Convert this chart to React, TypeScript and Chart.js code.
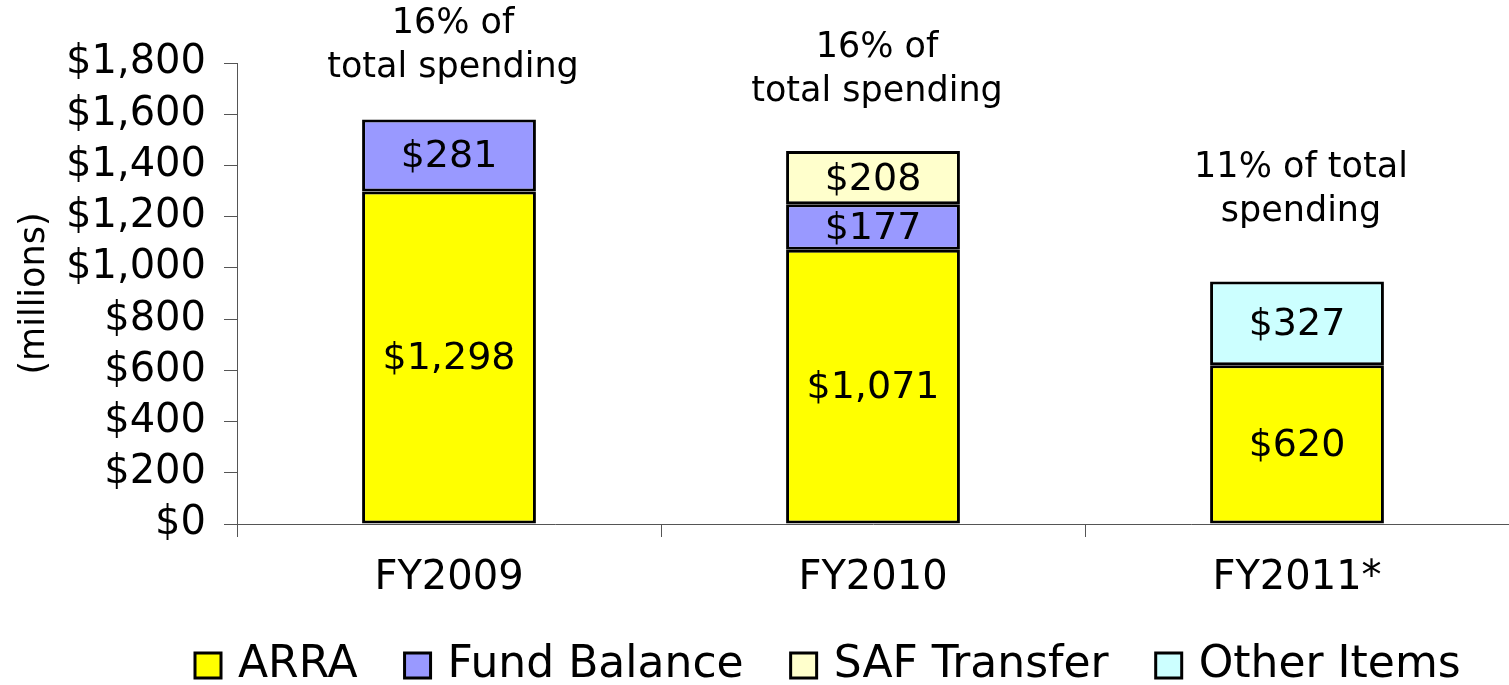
import React, { useEffect, useRef } from 'react';
import { Chart, registerables } from 'chart.js';

Chart.register(...registerables);

const categories = ['FY2009', 'FY2010', 'FY2011*'];
const arraValues = [1298, 1071, 620];
const fundBalanceValues = [281, 177, null];
const safTransferValues = [null, 208, null];
const otherItemsValues = [null, null, 327];
const yMin = 0;
const yMax = 1800;
const yStep = 200;
const shareNotes = [
  ['16% of', 'total spending'],
  ['16% of', 'total spending'],
  ['11% of total', 'spending'],
];

const FONT = '"DejaVu Sans", Verdana, sans-serif';

const barLabelPlugin = {
  id: 'barLabels',
  afterDatasetsDraw(chart: any) {
    const ctx = chart.ctx;
    ctx.save();
    ctx.font = `38px ${FONT}`;
    ctx.fillStyle = '#000';
    ctx.textAlign = 'center';
    ctx.textBaseline = 'middle';
    chart.data.datasets.forEach((ds: any, di: number) => {
      const meta = chart.getDatasetMeta(di);
      meta.data.forEach((bar: any, i: number) => {
        const v = ds.data[i];
        if (v == null) return;
        const { x, y, base } = bar.getProps(['x', 'y', 'base'], true);
        ctx.fillText('$' + v.toLocaleString('en-US'), x, (y + base) / 2 + 2);
      });
    });
    ctx.restore();
  },
};

const noteGaps = [52, 59, 70];

const notesPlugin = {
  id: 'shareNotes',
  afterDraw(chart: any) {
    const ctx = chart.ctx;
    const xs = chart.scales.x;
    const ys = chart.scales.y;
    ctx.save();
    ctx.font = `35px ${FONT}`;
    ctx.fillStyle = '#000';
    ctx.textAlign = 'center';
    ctx.textBaseline = 'middle';
    categories.forEach((_, i) => {
      let total = 0;
      chart.data.datasets.forEach((ds: any) => {
        total += ds.data[i] ?? 0;
      });
      const top = ys.getPixelForValue(total);
      const x = xs.getPixelForValue(i);
      const lines = shareNotes[i];
      const lastY = top - noteGaps[i];
      lines.forEach((line, li) => {
        ctx.fillText(line, x + 4, lastY - (lines.length - 1 - li) * 44);
      });
    });
    ctx.restore();
  },
};

const legendPlugin = {
  id: 'customLegend',
  afterDraw(chart: any) {
    const ctx = chart.ctx;
    ctx.save();
    ctx.font = `44px ${FONT}`;
    ctx.textBaseline = 'middle';
    ctx.textAlign = 'left';
    let x = 195;
    const cy = 665;
    chart.data.datasets.forEach((ds: any) => {
      ctx.fillStyle = ds.backgroundColor;
      ctx.fillRect(x, cy - 12, 26, 25);
      ctx.strokeStyle = '#000';
      ctx.lineWidth = 3;
      ctx.strokeRect(x, cy - 12, 26, 25);
      x += 26 + 17;
      ctx.fillStyle = '#000';
      ctx.fillText(ds.label, x, cy + 1);
      x += ctx.measureText(ds.label).width + 47;
    });
    ctx.restore();
  },
};

export default function App() {
  const ref = useRef<HTMLCanvasElement | null>(null);
  useEffect(() => {
    if (!ref.current) return;
    const mk = (label: string, data: any[], color: string) => ({
      label,
      data,
      backgroundColor: color,
      borderColor: '#000',
      borderWidth: 3,
      borderSkipped: false,
      barPercentage: 0.41,
      categoryPercentage: 1,
    });
    const chart = new Chart(ref.current, {
      type: 'bar',
      data: {
        labels: categories,
        datasets: [
          mk('ARRA', arraValues, '#FFFF00'),
          mk('Fund Balance', fundBalanceValues, '#9999FF'),
          mk('SAF Transfer', safTransferValues, '#FFFFCC'),
          mk('Other Items', otherItemsValues, '#CCFFFF'),
        ],
      },
      options: {
        animation: false,
        responsive: true,
        maintainAspectRatio: false,
        layout: { padding: { top: 63, left: 0, right: 0, bottom: 0 } },
        plugins: { legend: { display: false }, tooltip: { enabled: false } },
        scales: {
          x: {
            stacked: true,
            afterFit: (s: any) => {
              s.height = 161;
            },
            grid: {
              offset: true,
              drawOnChartArea: false,
              drawTicks: true,
              tickLength: 13,
              color: '#555',
            },
            border: { display: true, color: '#555', width: 1 },
            ticks: { font: { family: FONT, size: 40 }, color: '#000', padding: 18 },
          },
          y: {
            stacked: true,
            min: yMin,
            max: yMax,
            afterFit: (s: any) => {
              s.width = 237;
            },
            grid: {
              drawOnChartArea: false,
              drawTicks: true,
              tickLength: 13,
              color: '#555',
            },
            border: { display: true, color: '#555', width: 1 },
            ticks: {
              stepSize: yStep,
              font: { family: FONT, size: 40 },
              color: '#000',
              padding: 18,
              callback: (v: any) => '$' + Number(v).toLocaleString('en-US'),
            },
            title: {
              display: true,
              text: '(millions)',
              font: { family: FONT, size: 35 },
              color: '#000',
              padding: { top: 14, bottom: 0 },
            },
          },
        },
      },
      plugins: [barLabelPlugin, notesPlugin, legendPlugin],
    });
    return () => chart.destroy();
  }, []);
  return (
    <div style={{ position: 'absolute', left: 0, top: 0, width: 1509, height: 685, background: '#fff' }}>
      <canvas ref={ref} />
    </div>
  );
}
